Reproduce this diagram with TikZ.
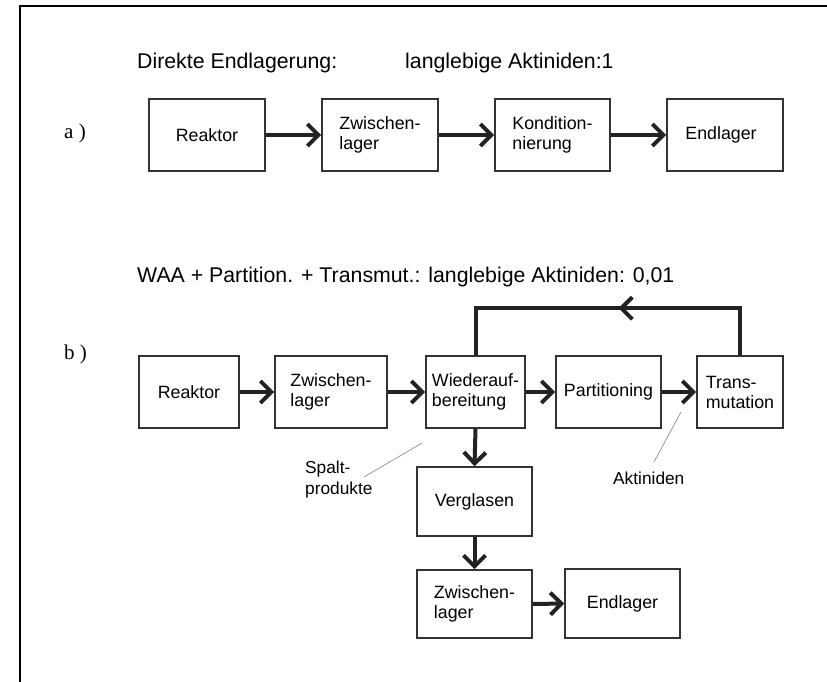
\documentclass[tikz,border=0pt]{standalone}
\usepackage{fontspec}
\setmainfont{Liberation Sans}
\newfontfamily\labelserif{Liberation Serif}
\usetikzlibrary{arrows.meta,decorations.markings}
\definecolor{ink}{HTML}{222222}
\definecolor{frame}{HTML}{333333}
\definecolor{leader}{HTML}{9A9A9A}
\tikzset{
  stagebox/.style={draw=frame, line width=1.6pt, rectangle, inner sep=0pt,
    align=left, text=black, font=\fontsize{17.8}{20}\selectfont},
  flow/.style={draw=ink, line width=4pt,
    -{Straight Barb[length=11pt,width=22pt,line width=4pt]}},
  loopline/.style={draw=ink, line width=4pt,
    postaction={decorate},
    decoration={markings, mark=at position 0.47 with
      {\arrow{Straight Barb[length=11pt,width=22pt,line width=4pt]}}}},
  heading/.style={anchor=base west, inner sep=0pt, font=\fontsize{21.3}{24}\selectfont},
  rowlabel/.style={anchor=base west, inner sep=0pt, font=\labelserif\fontsize{21}{24}\selectfont},
  note/.style={inner sep=0pt, align=left, font=\fontsize{17.3}{21}\selectfont},
  leaderline/.style={draw=leader, line width=0.8pt}
}
\begin{document}
\begin{tikzpicture}[x=1pt,y=-1pt]
  \useasboundingbox (0,0) rectangle (827,682);
  % outer frame lines
  \coordinate (frameTL) at (20,6);
  \coordinate (frameTR) at (827,6);
  \coordinate (frameBL) at (20,682);
  \draw[black, line width=2pt] (frameTR) -- (frameTL) -- (frameBL);

  % --- a) direct disposal ---
  \node[heading] (titleA) at (137,69) {Direkte Endlagerung:};
  \node[heading] (factorA) at (405,69) {langlebige Aktiniden:1};
  \node[rowlabel] (labA) at (64,139) {a )};

  \node[stagebox, minimum width=116pt, minimum height=72pt] (ra) at (207,135) {Reaktor};
  \node[stagebox, minimum width=116pt, minimum height=72pt] (za) at (380,135) {Zwischen-\\lager};
  \node[stagebox, minimum width=115pt, minimum height=72pt] (ka) at (552.5,135) {Kondition-\\nierung};
  \node[stagebox, minimum width=116pt, minimum height=72pt] (ea) at (725,135) {Endlager\hspace*{8pt}};

  \draw[flow] (ra.east) -- (za.west);
  \draw[flow] (za.east) -- (ka.west);
  \draw[flow] (ka.east) -- (ea.west);

  % --- b) reprocessing, partitioning and transmutation ---
  \node[heading] (titleB) at (137,282) {WAA + Partition. + Transmut.: langlebige Aktiniden: 0,01};
  \node[rowlabel] (labB) at (64,359) {b )};

  \node[stagebox, minimum width=100pt, minimum height=72pt] (rb) at (189,392) {Reaktor};
  \node[stagebox, minimum width=112pt, minimum height=72pt] (zb) at (331,392) {Zwischen-\\lager};
  \node[stagebox, minimum width=99pt, minimum height=72pt] (wb) at (475.5,392) {Wiederauf-\\bereitung};
  \node[stagebox, minimum width=105pt, minimum height=72pt] (pb) at (608.5,392) {Partitioning};
  \node[stagebox, minimum width=86pt, minimum height=72pt] (tb) at (740,392) {Trans-\\mutation};
  \node[stagebox, minimum width=115pt, minimum height=69pt] (vb) at (474.5,501.5) {Verglasen};
  \node[stagebox, minimum width=115pt, minimum height=68pt] (zc) at (474.5,604) {Zwischen-\\lager};
  \node[stagebox, minimum width=115pt, minimum height=69pt] (eb) at (622.5,603.5) {Endlager};

  \draw[flow] (rb.east) -- (zb.west);
  \draw[flow] (zb.east) -- (wb.west);
  \draw[flow] (wb.east) -- (pb.west);
  \draw[flow] (pb.east) -- (tb.west);
  \draw[flow] (wb.south) -- (vb.north);
  \draw[flow] (vb.south) -- (zc.north);
  \draw[flow] (zc.east) -- (eb.west);

  % recycling loop back to reprocessing
  \draw[loopline] (tb.north) -- ++(0,-47) -| (wb.north);

  % side streams
  \node[note, anchor=north west] (spalt) at (305,461) {Spalt-\\produkte};
  \coordinate (spaltFrom) at (364,477);
  \coordinate (spaltTo) at (422,443);
  \draw[leaderline] (spaltFrom) -- (spaltTo);

  \node[note, anchor=base west] (akt) at (613,484) {Aktiniden};
  \coordinate (aktFrom) at (654,462);
  \coordinate (aktTo) at (681,412);
  \draw[leaderline] (aktFrom) -- (aktTo);
\end{tikzpicture}
\end{document}
